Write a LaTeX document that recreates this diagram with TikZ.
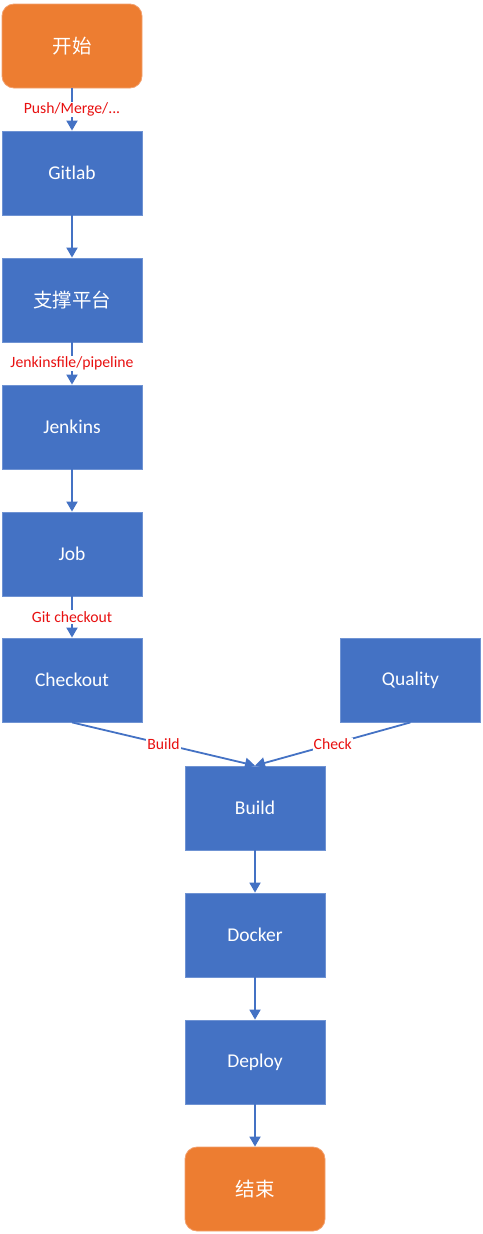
\documentclass[tikz,border=0pt]{standalone}
\usepackage{fontspec}
\setmainfont{Carlito}
\newfontfamily\cjk{Noto Sans CJK SC}
\usetikzlibrary{arrows.meta}
\definecolor{boxblue}{HTML}{4472C4}
\definecolor{boxedge}{HTML}{6F93D3}
\definecolor{boxorange}{HTML}{ED7D31}
\definecolor{orangeedge}{HTML}{F2A06E}
\definecolor{lblred}{HTML}{E81010}
\begin{document}
\begin{tikzpicture}[x=1pt,y=-1pt,
  bluebox/.style={draw=boxedge,line width=0.8pt,fill=boxblue,minimum width=140pt,minimum height=84pt,inner sep=0pt,text=white,font=\fontsize{19.5}{22}\selectfont},
  endbox/.style={bluebox,draw=orangeedge,fill=boxorange,rounded corners=12pt},
  conn/.style={draw=boxblue,line width=1.8pt,-{Triangle[width=11pt,length=10pt]}},
  lbl/.style={fill=white,text=lblred,inner sep=1pt,font=\fontsize{15.7}{18}\selectfont}]
\useasboundingbox (0,0) rectangle (482,1234);
\node[endbox] (start) at (72,46) {\cjk 开始};
\node[bluebox] (gitlab) at (72,173) {Gitlab};
\node[bluebox] (platform) at (72,300) {\cjk 支撑平台};
\node[bluebox] (jenkins) at (72,427) {Jenkins};
\node[bluebox] (job) at (72,554) {Job};
\node[bluebox] (checkout) at (72,680) {Checkout};
\node[bluebox] (quality) at (410.5,680) {Quality};
\node[bluebox] (build) at (255,808) {Build};
\node[bluebox] (docker) at (255,935) {Docker};
\node[bluebox] (deploy) at (255,1062) {Deploy};
\node[endbox] (end) at (255,1189) {\cjk 结束};
\draw[conn] (start) -- node[lbl]{Push/Merge/...} (gitlab);
\draw[conn] (gitlab) -- (platform);
\draw[conn] (platform) -- node[lbl]{Jenkinsfile/pipeline} (jenkins);
\draw[conn] (jenkins) -- (job);
\draw[conn] (job) -- node[lbl]{Git checkout} (checkout);
\draw[conn] (checkout.south) -- node[lbl]{Build} (build.north);
\draw[conn] (quality.south) -- node[lbl]{Check} (build.north);
\draw[conn] (build) -- (docker);
\draw[conn] (docker) -- (deploy);
\draw[conn] (deploy) -- (end);
\end{tikzpicture}
\end{document}
